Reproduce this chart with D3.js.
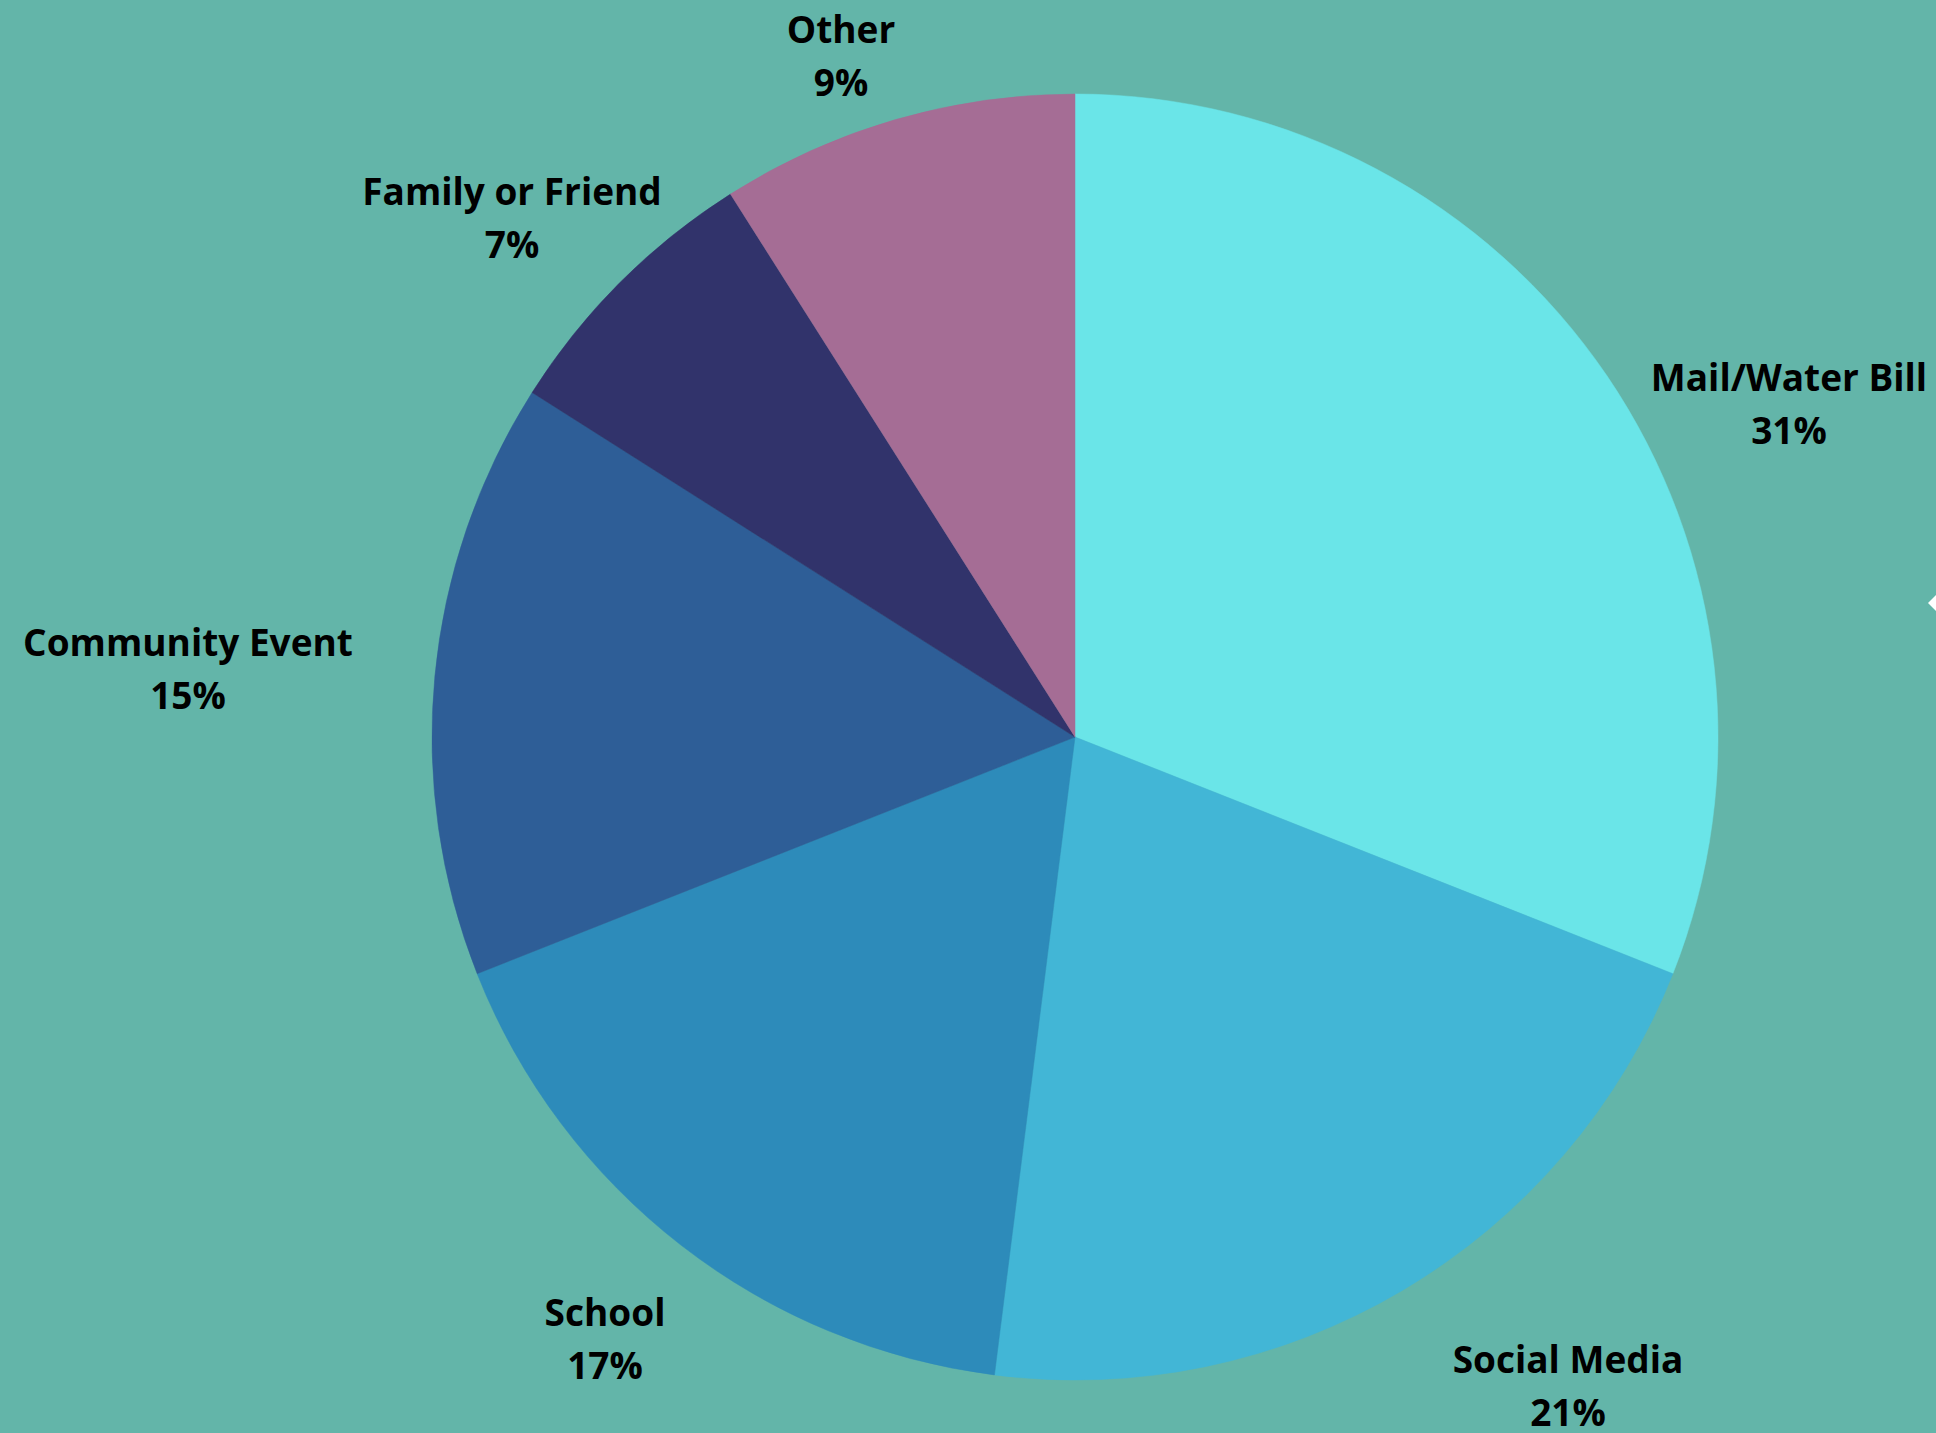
<!DOCTYPE html>
<html>
<head>
<meta charset="utf-8">
<script src="https://cdn.jsdelivr.net/npm/d3@7"></script>
<style>
  html, body { margin: 0; padding: 0; background: #63b5a9; overflow: hidden; }
  svg { display: block; }
  text { font-family: "Open Sans", "Noto Sans", sans-serif; font-weight: 700; fill: #000; }
</style>
</head>
<body>
<svg id="chart" width="1936" height="1433"></svg>
<script>
// How respondents heard about the program (share of responses, %)
const categories = ["Mail/Water Bill", "Social Media", "School", "Community Event", "Family or Friend", "Other"];
const values = [31, 21, 17, 15, 7, 9];
const colors = ["#6ae5e8", "#42b6d6", "#2d8bba", "#2e5e97", "#31336b", "#a56d95"];

// Label placement: centre of each two-line label, relative to the pie centre
const labelOffsets = [
  [714, -333], [493, 649], [-470, 602], [-887, -68], [-563, -519], [-234, -681]
];

const W = 1936, H = 1433;
const cx = 1075, cy = 737, radius = 643;
const fontSize = 37, lineGap = 53;

const svg = d3.select("#chart");
svg.append("rect").attr("width", W).attr("height", H).attr("fill", "#63b5a9");

const data = categories.map((c, i) => ({ name: c, value: values[i], color: colors[i], offset: labelOffsets[i] }));

const pie = d3.pie().value(d => d.value).sort(null);
const arc = d3.arc().innerRadius(0).outerRadius(radius);

const g = svg.append("g").attr("transform", `translate(${cx},${cy})`);

g.selectAll("path.slice")
  .data(pie(data))
  .join("path")
  .attr("class", "slice")
  .attr("d", arc)
  .attr("fill", d => d.data.color)
  .attr("stroke", d => d.data.color)
  .attr("stroke-width", 0.5);

const labels = g.selectAll("text.label")
  .data(pie(data))
  .join("text")
  .attr("class", "label")
  .attr("text-anchor", "middle")
  .attr("font-size", fontSize)
  .attr("transform", d => `translate(${d.data.offset[0]},${d.data.offset[1]})`);

labels.append("tspan")
  .attr("x", 0)
  .attr("y", -lineGap / 2 + fontSize * 0.36)
  .text(d => d.data.name);
labels.append("tspan")
  .attr("x", 0)
  .attr("y", lineGap / 2 + fontSize * 0.36)
  .text(d => d.data.value + "%");

// small navigation marker at the right edge
svg.append("path")
  .attr("d", d3.line()([[1928, 603], [1940, 591], [1952, 603], [1940, 615]]) + "Z")
  .attr("fill", "#ffffff");
</script>
</body>
</html>
